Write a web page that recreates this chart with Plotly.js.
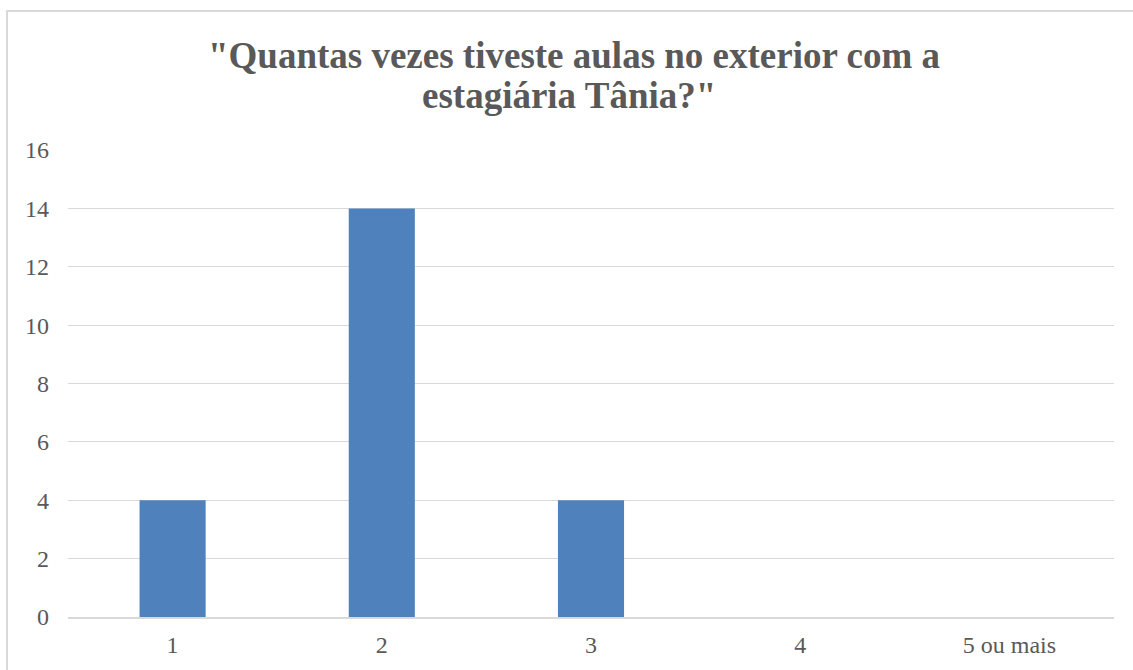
<!DOCTYPE html>
<html>
<head>
<meta charset="utf-8">
<script src="https://cdn.plot.ly/plotly-3.0.1.min.js"></script>
<style>html,body{margin:0;padding:0;background:#fff;}#chart{width:1133px;height:670px;}</style>
</head>
<body>
<div id="chart"></div>
<script>
const categories = ["1", "2", "3", "4", "5 ou mais"];
const values = [4, 14, 4, 0, 0];
const yTicks = [0, 2, 4, 6, 8, 10, 12, 14, 16];
const titleLines = ['"Quantas vezes tiveste aulas no exterior com a', 'estagiária Tânia?"'];

const W = 1133, H = 670;
const margin = {l: 68, r: 19, t: 150, b: 53};
const pw = W - margin.l - margin.r, ph = H - margin.t - margin.b;
const px = v => (v - margin.l) / pw;
const py = v => (H - margin.b - v) / ph;
const FONT = 'Liberation Serif';
const TITLE_FONT = {family: FONT, size: 37, color: '#595959', weight: 'bold'};

const trace = {
  type: 'bar',
  x: categories,
  y: values,
  marker: {color: '#4f81bd', line: {width: 0}},
  hoverinfo: 'x+y'
};

const layout = {
  width: W, height: H,
  margin: margin,
  paper_bgcolor: '#ffffff',
  plot_bgcolor: '#ffffff',
  bargap: 0.684,
  showlegend: false,
  font: {family: FONT, color: '#595959'},
  title: {
    text: titleLines[0],
    font: TITLE_FONT,
    x: 574 / W, xanchor: 'center', xref: 'container',
    y: 1 - 55 / H, yanchor: 'middle', yref: 'container'
  },
  annotations: [{
    text: titleLines[1],
    font: TITLE_FONT,
    xref: 'paper', yref: 'paper',
    x: px(569), xanchor: 'center',
    y: py(95.5), yanchor: 'middle',
    showarrow: false
  }],
  xaxis: {
    type: 'category',
    tickfont: {family: FONT, size: 24, color: '#595959'},
    showgrid: false,
    showline: true, linecolor: '#d9d9d9', linewidth: 1.5,
    ticks: '', zeroline: false,
    ticklabelstandoff: 6,
    fixedrange: true
  },
  yaxis: {
    range: [0, 16],
    tickvals: yTicks,
    ticktext: yTicks.map(String),
    tickfont: {family: FONT, size: 24, color: '#595959'},
    showgrid: true, gridcolor: '#d9d9d9', gridwidth: 1.2,
    showline: false, zeroline: false,
    ticks: '', ticklen: 0,
    ticklabelstandoff: 18,
    fixedrange: true
  },
  shapes: [{
    type: 'rect', xref: 'paper', yref: 'paper',
    x0: px(7), x1: px(1145), y0: py(685), y1: py(11),
    line: {color: '#d9d9d9', width: 2}, fillcolor: 'rgba(0,0,0,0)', layer: 'below'
  }]
};

Plotly.newPlot('chart', [trace], layout, {displayModeBar: false, staticPlot: true});
</script>
</body>
</html>
